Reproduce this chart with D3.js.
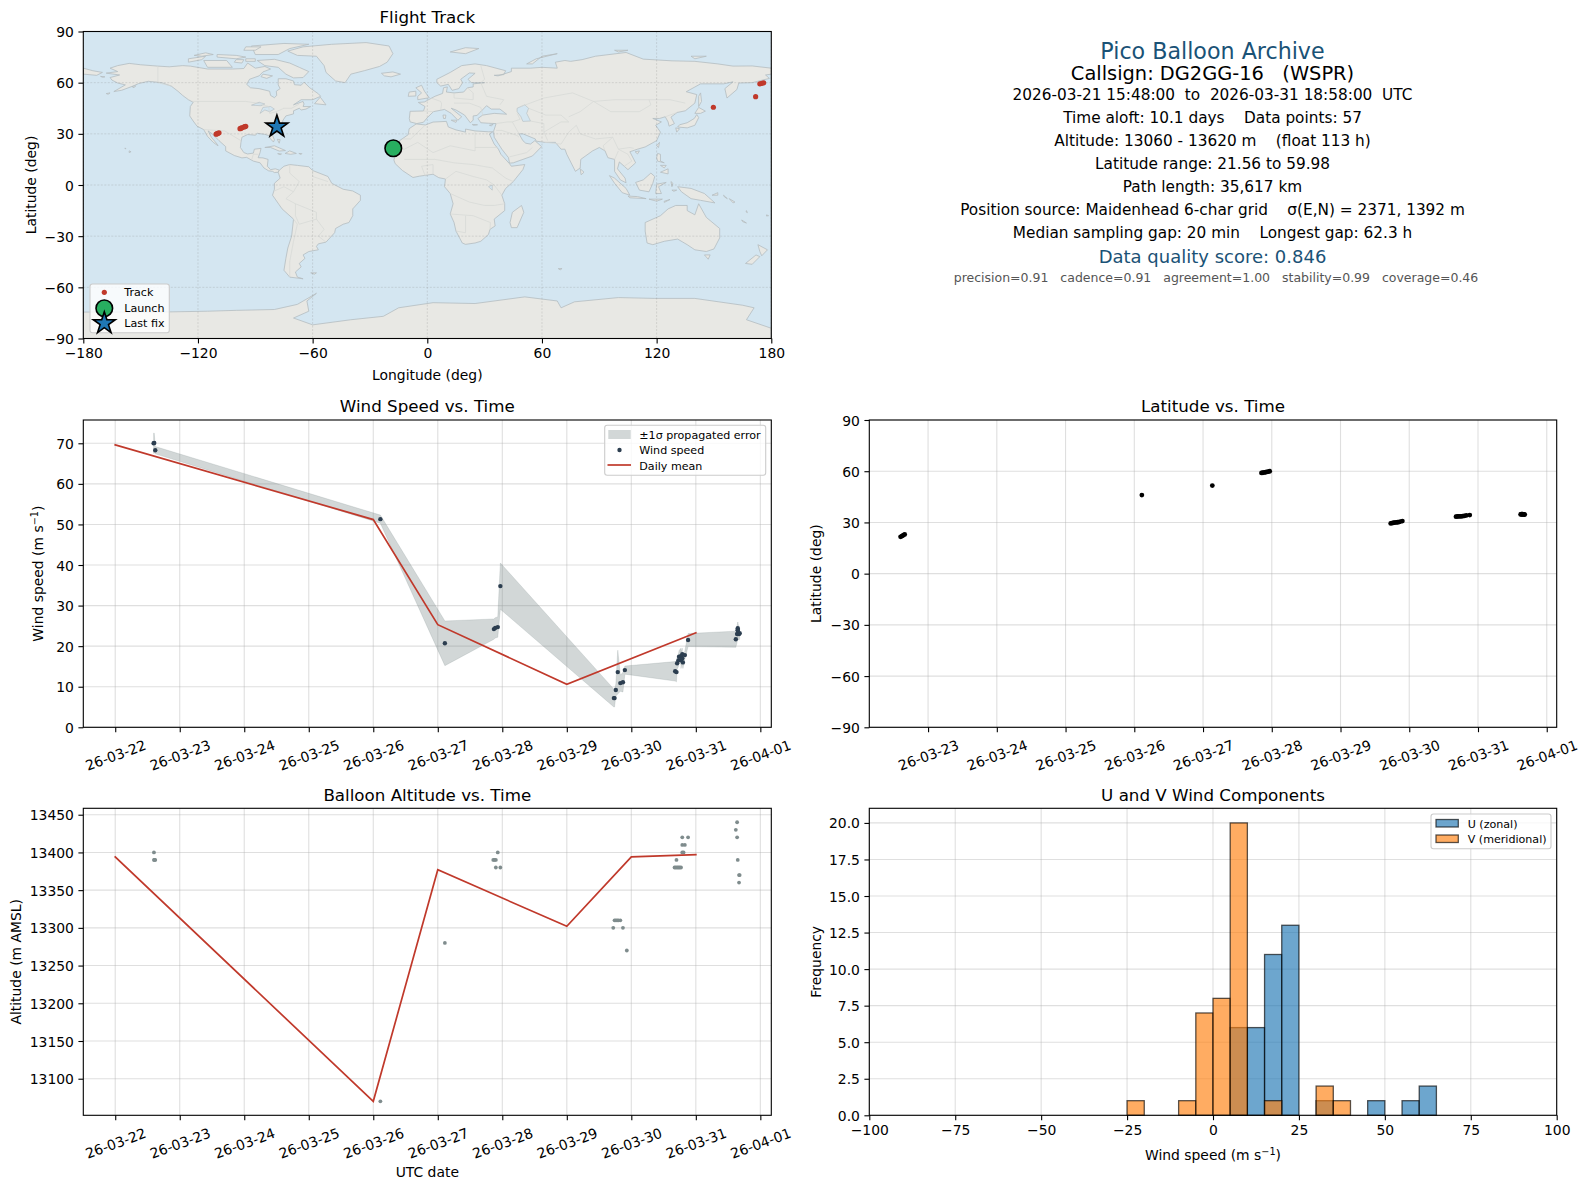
<!DOCTYPE html>
<html>
<head>
<meta charset="utf-8">
<script src="https://cdn.jsdelivr.net/npm/d3@7"></script>
<style>
html, body { margin: 0; padding: 0; background: #fff; }
text { font-family: "DejaVu Sans", sans-serif; fill: #000; white-space: pre; }
</style>
</head>
<body>
<div id="container"></div>
<script>
// ---- flight data ----
var launch = [-17.8, 21.56];
var lastFix = [-78.7, 34.2];
var trackLon = [-110.5, -110, -109.5, -109, -98, -97.5, -97, -96, -95.5, -95, 149.7, 171.8, 174, 175, 176];
var trackLat = [29.8, 30.1, 30.3, 30.6, 33, 33.3, 33.5, 34, 34.2, 34.4, 45.6, 51.8, 59.3, 59.6, 59.9];

var windDay = [22.595, 22.605, 22.62, 26.11, 27.11, 27.87, 27.89, 27.93, 27.97, 29.73, 29.74, 29.76, 29.79, 29.83, 29.87, 29.90, 30.68, 30.70, 30.71, 30.73, 30.74, 30.77, 30.77, 30.79, 30.79, 30.80, 30.83, 30.88, 31.62, 31.64, 31.65, 31.65, 31.65, 31.67, 31.68];
var windSpeed = [70, 70.1, 68.3, 51.3, 20.7, 24.2, 24.5, 24.7, 34.8, 7.2, 7.2, 9.2, 13.6, 10.9, 11.1, 14.1, 13.8, 13.6, 15.8, 16.5, 17.4, 17.5, 16.5, 18, 17, 16, 17.8, 21.5, 21.7, 23, 24.4, 24, 23.9, 23, 23.2];
var windSigma = [2.5, 2.4, 0.9, 1.0, 5.5, 2.5, 2.5, 2.5, 5.7, 2.2, 2.2, 1.5, 5.4, 2.0, 2.4, 1.0, 2.4, 2.4, 1.5, 1.5, 1.5, 2.0, 2.0, 1.5, 1.5, 1.5, 1.0, 1.6, 2.0, 2.0, 1.5, 1.8, 2.0, 1.5, 1.3];
var windMeanDay = [22, 26, 27, 29, 31];
var windMean = [69.6, 51.2, 25.3, 10.6, 23.3];

var latDay = [22.60, 22.62, 22.64, 22.66, 26.11, 27.135, 27.85, 27.87, 27.89, 27.91, 27.93, 27.95, 27.97, 29.73, 29.75, 29.77, 29.79, 29.81, 29.83, 29.85, 29.87, 29.90, 30.68, 30.70, 30.72, 30.74, 30.76, 30.78, 30.80, 30.83, 30.88, 31.62, 31.63, 31.64, 31.65, 31.66, 31.67, 31.68];
var latValue = [21.56, 22, 22.5, 23, 46, 51.6, 59, 59.1, 59.3, 59.4, 59.6, 59.8, 59.98, 29.4, 29.6, 29.8, 29.9, 30, 30.1, 30.2, 30.5, 30.8, 33.4, 33.5, 33.5, 33.6, 33.6, 33.7, 33.8, 34.1, 34.3, 34.7, 34.8, 34.8, 34.8, 34.7, 34.7, 34.6];

var altDay = [22.60, 22.60, 22.61, 22.62, 26.11, 27.11, 27.86, 27.88, 27.90, 27.90, 27.93, 27.97, 29.72, 29.74, 29.76, 29.78, 29.80, 29.83, 29.87, 29.93, 30.67, 30.69, 30.70, 30.71, 30.73, 30.75, 30.77, 30.79, 30.79, 30.79, 30.81, 30.83, 30.88, 31.62, 31.64, 31.64, 31.65, 31.67, 31.68, 31.67];
var altValue = [13400, 13390, 13390, 13390, 13070, 13280, 13390, 13390, 13390, 13380, 13400, 13380, 13300, 13310, 13310, 13310, 13310, 13310, 13300, 13270, 13380, 13380, 13390, 13380, 13380, 13380, 13380, 13400, 13410, 13420, 13400, 13410, 13420, 13430, 13440, 13420, 13390, 13370, 13370, 13360];
var altMeanDay = [22, 26, 27, 29, 30, 31];
var altMean = [13394, 13070, 13377, 13302, 13394, 13397];

var binStart = [-25, -20, -15, -10, -5, 0, 5, 10, 15, 20, 25, 30, 35, 40, 45, 50, 55, 60];
var uCounts = [0, 0, 0, 0, 0, 0, 6, 6, 11, 13, 0, 1, 0, 0, 1, 0, 1, 2];
var vCounts = [1, 0, 0, 1, 7, 8, 20, 0, 1, 0, 0, 2, 1, 0, 0, 0, 0, 0];
var binWidth = 5;

var lonTicks = [-180, -120, -60, 0, 60, 120, 180];
var latTicks = [-90, -60, -30, 0, 30, 60, 90];
var windTicks = [0, 10, 20, 30, 40, 50, 60, 70];
var altTicks = [13100, 13150, 13200, 13250, 13300, 13350, 13400, 13450];
var histXTicks = [-100, -75, -50, -25, 0, 25, 50, 75, 100];
var histYTicks = [0, 2.5, 5, 7.5, 10, 12.5, 15, 17.5, 20];

var infoLines = [
	"Pico Balloon Archive",
	"Callsign: DG2GG-16   (WSPR)",
	"2026-03-21 15:48:00  to  2026-03-31 18:58:00  UTC",
	"Time aloft: 10.1 days    Data points: 57",
	"Altitude: 13060 - 13620 m    (float 113 h)",
	"Latitude range: 21.56 to 59.98",
	"Path length: 35,617 km",
	"Position source: Maidenhead 6-char grid    \u03c3(E,N) = 2371, 1392 m",
	"Median sampling gap: 20 min    Longest gap: 62.3 h",
	"Data quality score: 0.846",
	"precision=0.91   cadence=0.91   agreement=1.00   stability=0.99   coverage=0.46"
];

// rough coastlines, lon/lat by hand
var land = [
	// north america
	[[-166,68.5],[-162,70],[-156,71.3],[-150,70.5],[-141,69.7],[-135,69.3],[-128,70],[-124,69.7],[-115,68],[-108,68],[-102,68],[-96,68.3],[-94,71.5],[-90,68.5],[-85,69.5],[-82,68],[-86,66.3],[-88,64],[-93,62],[-94.5,59],[-92.5,57],[-88,56.5],[-82.5,55],[-82,52.5],[-80,51.2],[-78.8,52.5],[-79,55],[-77,56.5],[-78,58.7],[-78,62.3],[-74,62.3],[-70,61],[-69.5,58.8],[-66,58.5],[-64.5,60.3],[-61.5,57],[-57,53.5],[-55.8,52],[-60,50],[-66,50],[-70,47],[-65,49],[-64.5,47.5],[-65,46],[-61,46],[-63.5,44.5],[-66,44],[-67,45],[-70,43.5],[-70,41.7],[-74,40.5],[-75.5,38],[-76,35.5],[-78,34],[-81,32],[-81.3,30],[-80,26.5],[-80.5,25.2],[-82,27],[-83,29],[-85,29.7],[-89,30.3],[-90,29.2],[-94,29.6],[-97,28],[-97.5,25],[-97.8,22],[-96,19],[-94,18.2],[-91,18.7],[-90.5,21],[-87,21.5],[-87.5,19],[-88.5,16],[-86,15.9],[-83.3,15],[-83.7,11],[-82,9],[-79.5,9.5],[-77.4,8.7],[-78,7.5],[-80,7.3],[-81,8],[-83,8.3],[-85.5,10],[-87.5,13],[-91,14],[-94.5,16.2],[-97,15.9],[-101,17.3],[-105.5,20],[-105.5,22.5],[-109,26],[-112.5,30],[-114.7,31.7],[-113,28],[-110,24],[-109.5,23],[-112,25],[-115,28.5],[-117,32.5],[-120.5,34.5],[-122.5,37.5],[-124.3,40.5],[-124,46],[-122.5,48.5],[-125,50],[-128,52.5],[-130.5,55],[-134,58],[-139,60],[-146,60.8],[-151,59.5],[-154,58],[-160,55.5],[-164,54.8],[-158,58.7],[-162,59.8],[-165,61.5],[-166,63],[-161,64.5],[-168,65.6],[-162,66.5]],
	// greenland and the arctic islands
	[[-73,78.5],[-65,81],[-50,82.5],[-32,83.5],[-20,81.5],[-18,77],[-21,72],[-25,69.5],[-33,67],[-40,65],[-43,60],[-48,61],[-53,66],[-54,70],[-58,75.5],[-68,76]],
	[[-80,73.7],[-72,71.5],[-67,69],[-62,66.5],[-65,63],[-70,62.8],[-74,65],[-78,69],[-85,70],[-89,73]],
	[[-117,73],[-105,73],[-102,69],[-115,69]],
	[[-125,74],[-116,75.5],[-118,73.5],[-125,72]],
	[[-90,76.5],[-78,76.5],[-72,80],[-62,82.5],[-75,83],[-92,81.5]],
	[[-110,76.5],[-100,76],[-95,75],[-100,74],[-110,75]],
	[[-95,81],[-87,81],[-90,79],[-96,79]],
	[[-122,76],[-116,77.5],[-112,76.5],[-118,75.5]],
	[[-100,73.5],[-96,73.5],[-97,71.5],[-101,72]],
	[[-95,74],[-90,74],[-90,72.5],[-95,72.5]],
	[[-86,65],[-81,64],[-84,62.5],[-87,63.5]],
	[[-59,47.7],[-56,51.5],[-53,47]],
	// caribbean
	[[-85,22],[-80,23],[-74.2,20.2],[-77.5,19.9],[-82,22]],
	[[-74.4,18.5],[-72,20],[-68.5,18.5],[-71.5,18]],
	[[-78.3,18.4],[-76.3,18.2],[-77,17.8]],
	[[-67.2,18.5],[-65.6,18.4],[-66,17.9]],
	[[-78.5,26.8],[-77,26.6],[-77.5,24.5]],
	// south america
	[[-77.4,8.7],[-75,11],[-72,12],[-68,11.5],[-62,10.7],[-60,8.5],[-52,5],[-50,1],[-44,-2.5],[-39,-3.5],[-35,-6],[-35,-9],[-39,-14],[-39,-18],[-41,-22],[-44,-23],[-48,-25.5],[-48.5,-28],[-53,-33.5],[-57,-34.5],[-58,-36],[-57,-38],[-62,-39],[-65,-41],[-64,-43],[-67,-46],[-66,-48],[-69,-51],[-68,-54],[-65,-55],[-72,-54],[-75,-50],[-74,-43],[-73,-37],[-71,-30],[-70,-20],[-76,-14],[-81,-6],[-80,-2.5],[-80,1],[-77,4],[-78,7.5]],
	[[-61,-51.5],[-58,-51.5],[-59,-52.3]],
	// africa
	[[-5.8,35.8],[-1,35.2],[3,36.9],[10,37.3],[11,34],[15,32.3],[20,31],[20,32.8],[25,31.7],[32,31.2],[34.3,31.2],[32.5,29.9],[35,24],[37.2,21],[38.5,18],[43,12.5],[44,11],[51,12],[50,9],[45,2],[41,-2],[39,-6],[40.5,-11],[40.5,-15],[35,-20],[35.5,-24],[32.8,-26],[32,-29],[28,-33],[25,-34],[20,-34.8],[18.3,-34],[15,-27],[14,-22],[12,-17],[13.5,-11],[12,-5],[9,-1],[9.5,3.5],[6,4.3],[3,6.3],[-4,5.2],[-7.5,4.4],[-13,8.5],[-16.8,12.5],[-17.5,14.7],[-16.2,19],[-17,21],[-14.5,26],[-10,29.5],[-9.5,33]],
	// eurasia
	[[-9,37],[-9.4,39],[-9,43.2],[-2,43.4],[-1.2,46],[-4.7,48.4],[-1.5,48.7],[1.5,50.5],[4,52],[8,53.7],[8.5,57],[10.5,57.5],[10,54.5],[14,54],[19,54.5],[21,57],[24,57.5],[24,59.3],[30,60],[23,60],[21.3,62],[25,65.5],[22,65.7],[17.5,62],[18.5,60],[16.5,56.5],[13,55.5],[11,59],[7,58],[5,60],[5,62],[12,66],[18,70],[25,71],[31,70],[41,67],[40,64.7],[35,64.3],[37,64],[44,66.5],[44,68.5],[54,68.5],[60,69],[68,68.5],[67,72],[72,73],[75,72.5],[81,73.5],[88,75.5],[104,77.7],[113,73.8],[128,72.8],[140,72.5],[152,71],[160,69.7],[170,69.8],[180,68.5],[180,65],[177,64.5],[179,62.5],[170,60],[163,59.8],[162,56],[156.8,51],[155.7,56.5],[160,60.5],[155,59.3],[143,59.3],[135.5,54.7],[141,53],[140,48],[135,43.5],[130.7,42.5],[127.5,39.8],[129.3,36],[126.5,34.5],[126,37],[124.5,40],[121.5,39],[118,39],[122.5,37],[119.5,35],[122,31],[120,26],[114,22.3],[110,21],[106,19.5],[109,13],[105,9],[103,11],[100.5,13.5],[99.5,9.5],[103.5,4],[104,1.3],[101,3],[98,8],[98,15],[94.5,16],[93,20],[90,22],[86.5,20],[80.3,15],[80,10],[77.5,8],[73,18],[72,21],[70,21],[67,25],[61.5,25],[57,25.7],[56.5,27],[50,30],[48,30],[50,26],[51.5,24.5],[54,24],[56.3,26],[59.8,22.5],[55,17],[45,13],[43,12.8],[42.5,16],[39,21],[35,28],[34.7,31.5],[36,36],[32,36.2],[28,36.5],[26.5,39],[29,41],[35,42],[41.5,41.5],[38,44.5],[33.5,44.5],[31,46.5],[28,43],[26,40.8],[24,40.5],[24,38],[22.5,36.5],[19.5,41],[15,44],[12.5,45],[18,40],[16,38],[12.5,42],[9,44.3],[3.2,43],[0,39.5],[-2,36.8],[-5.5,36]],
	[[-180,68.5],[-175,67],[-170,66],[-173,64.3],[-180,65]],
	[[-5,50],[1,51.2],[-1.5,55],[-3,58.5],[-6,57],[-3,54],[-5,52]],
	[[-10,52],[-6,52.2],[-6,55],[-9.5,54.5]],
	[[-24,65.5],[-18,66.3],[-14,65],[-19,63.4],[-22.5,64]],
	[[12,78],[20,80.5],[27,80],[20,77]],
	[[52,71],[57,74],[68,77],[60,75.5],[55,71]],
	[[98,79],[105,79],[100,78]],
	[[138,75.5],[146,75.5],[140,74]],
	[[12.5,38],[15.5,38],[15,36.7]],
	[[8.2,41],[9.7,41],[9.5,39],[8.5,39]],
	[[23.5,35.5],[26.3,35.3],[24,35]],
	[[32.5,35],[34.5,35.6],[33.5,34.7]],
	[[49.3,-12],[50.5,-16],[47,-25],[44,-25],[43.3,-22],[44.5,-16]],
	[[80,9.5],[82,7.5],[80.5,6]],
	[[131,34],[136,33.5],[140,35],[142,39.5],[141,41.3],[139.7,39],[136,36.5],[132,35.3]],
	[[140,42],[142,45.5],[145.5,43.3],[143,42]],
	[[130,33.5],[132,33],[130.5,31]],
	[[142,46],[143.5,49],[143,54],[142,52]],
	[[120,23],[121.5,25],[121,22]],
	[[108.7,19.5],[111,20],[110,18.2]],
	[[120,16],[120.5,18.5],[122,18],[122,14],[124,13],[120.5,14]],
	[[122,7.5],[126,9.5],[126,6.5]],
	[[122,11.5],[125,11.5],[124,10]],
	[[109,1.5],[113,3],[117,7],[119,5],[118,1],[116,-4],[111,-3]],
	[[95.3,5.5],[98,4],[104,-2],[106,-6],[102,-4.5],[98,1]],
	[[105,-6.5],[110,-6.8],[114.5,-8],[106,-7.5]],
	[[116,-8.3],[123,-8.3],[120,-9.5]],
	[[124,-9.5],[127,-8.5],[124,-10.2]],
	[[119.5,-5],[120,0.5],[125,1.5],[121,-1],[122.5,-5]],
	[[127.5,2],[128.5,1],[128,-1]],
	[[128,-3],[130.5,-3],[129,-3.7]],
	[[131,-1],[138,-2],[145,-5],[150.5,-10.5],[143,-9],[138,-8],[133,-4]],
	[[149,-6],[152,-4.5],[152,-6]],
	[[155,-6],[157,-8],[155.5,-7]],
	[[158,-8],[161,-10],[160,-10.5]],
	[[164.5,-20.5],[167,-22.3],[165,-21.5]],
	[[167,-15],[167.5,-16.2],[166.8,-15.8]],
	[[177.5,-17.5],[178.6,-18],[177.5,-18.2]],
	[[114,-22],[122,-18],[126,-14],[130,-12],[136,-12],[136,-15],[140,-17.5],[142,-11],[146,-19],[153,-25.5],[153,-31],[150,-37.5],[146,-39],[140,-38],[136,-35],[131,-31.7],[124,-33],[118,-35],[115,-34],[114,-27]],
	[[145,-41],[148,-41],[147,-43.5]],
	[[173,-35],[178,-38],[175,-41.5],[174,-39]],
	[[172,-41],[174,-42],[170,-46.5],[166.5,-46]],
	[[68.5,-49],[70.5,-49],[69.5,-49.8]],
	[[-156,20],[-155,19.5],[-156,19]],
	[[-158.3,21.6],[-157.6,21.4],[-158,21.2]],
	[[-171,63.7],[-168.7,63.4],[-170,63.2]],
	[[-154.5,57.7],[-152.5,58.2],[-153.5,57]],
	[[-168,53.6],[-166,54],[-167,53.2]],
	// antarctica
	[[-180,-74.5],[-140,-74.5],[-115,-74],[-100,-73.5],[-80,-73],[-68,-70],[-58,-63.5],[-63,-68],[-62,-74],[-70,-78],[-60,-82],[-40,-79],[-23,-77],[-15,-72],[3,-69],[25,-69.5],[51,-65.6],[68,-68],[70,-72],[77,-68.5],[100,-66],[119,-66.5],[140,-66.5],[165,-70.5],[171,-72],[167,-79],[180,-84],[180,-90],[-180,-90]]
];
var lakes = [
	[[47,45],[51,47],[53,45],[52,42],[54,37.5],[50,37.3],[49,40],[47,43]],
	[[-92,46.8],[-88,48.5],[-85,47.5],[-87,46.5]],
	[[-87.5,42],[-86,45.5],[-82,46],[-80,44.5],[-82.5,43],[-85,44]],
	[[32,-1],[34,0],[34,-3]]
];
var borders = [
	[[-123,49],[-95,49],[-89,48],[-83,46],[-82.5,42],[-79,43],[-75,45],[-71,45],[-67,47.5]],
	[[-141,69.7],[-141,60],[-134,58]],
	[[-117,32.5],[-106,31.7],[-97.5,26]],
	[[-92,14.5],[-91,18],[-88.5,18]],
	[[-72,12],[-72,7],[-67,2],[-70,-4],[-74,-8],[-69,-11],[-58,-16],[-58,-20],[-54,-26],[-57,-30],[-53,-33.5]],
	[[-60,8.5],[-60,5],[-52,2]],
	[[-70,-20],[-68,-23],[-70,-33],[-72,-45],[-72,-54]],
	[[-80,-3.5],[-75,-1],[-70,-4]],
	[[-69,-11],[-69,-18],[-67,-23],[-58,-20]],
	[[-13,27],[-8.7,27],[-1,35.2]],
	[[-17,21],[-12,21],[-5,25],[3,19],[12,23],[25,20],[25,31.7]],
	[[25,22],[37,22]],
	[[-12,15],[4,15],[14,13],[24,12],[34,10],[41,4],[45,2]],
	[[9.5,3.5],[15,8],[24,5],[31,3],[35,0],[39,-6]],
	[[12,-5],[22,-10],[30,-12],[35,-12],[40.5,-11]],
	[[12,-17],[24,-18],[33,-22],[32.8,-26]],
	[[20,-18],[20,-28],[15,-27]],
	[[-1,5],[-3,11],[3,12],[3,6.3]],
	[[-2,43.4],[3.2,43]],
	[[2,51],[7,49],[7.5,47.5],[7,44]],
	[[14,54],[14,51],[24,50],[24,54],[21,57]],
	[[14,48],[22,48],[28,45.5],[29,41]],
	[[28,60],[31,52],[40,50],[38,47]],
	[[28,70],[30,62],[28,60]],
	[[47,42],[48.5,38.5],[44.5,37],[42,37],[36,36]],
	[[44.5,37],[48,30]],
	[[36,32],[39,32],[47,29],[48,28]],
	[[43,16.5],[52,19],[55,22]],
	[[54,37.5],[61,36],[61,31],[63,26]],
	[[61,31],[70,37],[74,37]],
	[[61.5,25],[70,24],[74,31],[78,35],[80,30],[88,27],[97,28],[92,23],[93,20]],
	[[53,45],[62,41],[70,41],[74,37]],
	[[49,46],[61,51],[76,54],[87,49],[98,50],[107,50],[116,50],[127,50],[135,48]],
	[[87,49],[80,43],[74,40]],
	[[87,49],[96,43],[111,43],[117,47],[116,50]],
	[[97,28],[100,21],[106,22],[108,21.5]],
	[[100,21],[105,18],[107,14],[103,11]],
	[[98,15],[100,20]],
	[[124.5,40],[130.7,42.5]]
];

var dateTicks = [22, 23, 24, 25, 26, 27, 28, 29, 30, 31, 32];

// ---- layout ----
var W = 1588, H = 1189;
var leftCol = [83.3, 771.3], rightCol = [869.3, 1556.7];
var row1 = [31.5, 338.5], row2 = [420, 727.3], row3 = [808.3, 1115.3];
var RED = "#c0392b", NAVY = "#1a5276";

function marchDate(d) {
	return new Date(Date.UTC(2026, 2, 1) + (d - 1) * 864e5);
}
var dayFmt = d3.utcFormat("%y-%m-%d");
function minus(v) {
	return String(v).replace("-", "\u2212");
}

var svg = d3.select("#container").append("svg")
	.attr("width", W)
	.attr("height", H)
	.style("display", "block");

// one panel: grid, ticks and spines; marks go into the returned group
function panel(col, row, x, y, xTicks, yTicks, xFmt, yFmt, rotate) {
	var p = {};
	var grid = svg.append("g");
	p.marks = svg.append("g");
	xTicks.forEach(function(t) {
		grid.append("line").attr("x1", x(t)).attr("x2", x(t)).attr("y1", row[0]).attr("y2", row[1])
			.attr("stroke", "#b0b0b0").attr("stroke-opacity", 0.4).attr("stroke-width", 1.1);
	});
	yTicks.forEach(function(t) {
		grid.append("line").attr("x1", col[0]).attr("x2", col[1]).attr("y1", y(t)).attr("y2", y(t))
			.attr("stroke", "#b0b0b0").attr("stroke-opacity", 0.4).attr("stroke-width", 1.1);
	});
	p.finish = function() {
		var ax = svg.append("g").attr("transform", "translate(0," + row[1] + ")")
			.call(d3.axisBottom(x).tickValues(xTicks).tickFormat(xFmt).tickSize(4.9).tickPadding(4.5));
		var ay = svg.append("g").attr("transform", "translate(" + col[0] + ",0)")
			.call(d3.axisLeft(y).tickValues(yTicks).tickFormat(yFmt).tickSize(4.9).tickPadding(4.5));
		[ax, ay].forEach(function(a) {
			a.select(".domain").remove();
			a.selectAll("line").attr("stroke", "#000").attr("stroke-width", 1.1);
			a.selectAll("text").style("font-family", '"DejaVu Sans"').style("font-size", "13.9px").attr("fill", "#000");
		});
		ay.selectAll("text").attr("dy", "0.36em");
		if (rotate) {
			ax.selectAll("text")
				.attr("y", 0).attr("dy", "0.35em")
				.attr("text-anchor", "middle")
				.attr("transform", "translate(0,28) rotate(-20)");
		}
		svg.append("rect")
			.attr("x", col[0]).attr("y", row[0])
			.attr("width", col[1] - col[0]).attr("height", row[1] - row[0])
			.attr("fill", "none").attr("stroke", "#000").attr("stroke-width", 1.1);
	};
	return p;
}

function title(col, row, s, lift) {
	svg.append("text")
		.attr("x", (col[0] + col[1]) / 2).attr("y", row[0] - lift)
		.attr("text-anchor", "middle").style("font-size", "16.7px").text(s);
}
function xLabel(col, yPos) {
	return svg.append("text")
		.attr("x", (col[0] + col[1]) / 2).attr("y", yPos)
		.attr("text-anchor", "middle").style("font-size", "13.9px");
}
function yLabel(row, xPos) {
	return svg.append("text")
		.attr("transform", "translate(" + xPos + "," + (row[0] + row[1]) / 2 + ") rotate(-90)")
		.attr("text-anchor", "middle").style("font-size", "13.9px");
}
// "Wind speed (m s^-1)"
function windUnit(t) {
	t.append("tspan").text("Wind speed (m s");
	t.append("tspan").attr("dy", -5).style("font-size", "9.7px").text("\u22121");
	t.append("tspan").attr("dy", 5).text(")");
}
function legendBox(x0, y0, x1, y1) {
	svg.append("rect")
		.attr("x", x0).attr("y", y0).attr("width", x1 - x0).attr("height", y1 - y0).attr("rx", 2.5)
		.attr("fill", "#fff").attr("fill-opacity", 0.8).attr("stroke", "#ccc").attr("stroke-width", 1.1);
}
function legendText(x, y, s) {
	svg.append("text").attr("x", x).attr("y", y).attr("dy", "0.36em").style("font-size", "11.1px").text(s);
}

// ---- flight track map ----
var xLon = d3.scaleLinear().domain([-180, 180]).range(leftCol);
var yLat = d3.scaleLinear().domain([-90, 90]).range([row1[1], row1[0]]);

svg.append("clipPath").attr("id", "mapClip").append("rect")
	.attr("x", leftCol[0]).attr("y", row1[0])
	.attr("width", leftCol[1] - leftCol[0]).attr("height", row1[1] - row1[0]);

var mapG = svg.append("g").attr("clip-path", "url(#mapClip)");
mapG.append("rect")
	.attr("x", leftCol[0]).attr("y", row1[0])
	.attr("width", leftCol[1] - leftCol[0]).attr("height", row1[1] - row1[0])
	.attr("fill", "#d4e6f1");

var geoLine = d3.line().x(function(d) { return xLon(d[0]); }).y(function(d) { return yLat(d[1]); });

mapG.selectAll(".land").data(land).enter().append("path")
	.attr("class", "land")
	.attr("d", function(d) { return geoLine(d) + "Z"; })
	.attr("fill", "#e8e8e4")
	.attr("stroke", "#b4bcc0").attr("stroke-width", 0.8).attr("stroke-linejoin", "round");
mapG.selectAll(".lake").data(lakes).enter().append("path")
	.attr("class", "lake")
	.attr("d", function(d) { return geoLine(d) + "Z"; })
	.attr("fill", "#d4e6f1")
	.attr("stroke", "#b4bcc0").attr("stroke-width", 0.6);
mapG.selectAll(".border").data(borders).enter().append("path")
	.attr("class", "border")
	.attr("d", geoLine)
	.attr("fill", "none")
	.attr("stroke", "#d6d8d6").attr("stroke-width", 0.7);

lonTicks.forEach(function(t) {
	mapG.append("line").attr("x1", xLon(t)).attr("x2", xLon(t)).attr("y1", row1[0]).attr("y2", row1[1])
		.attr("stroke", "#888").attr("stroke-opacity", 0.35).attr("stroke-width", 0.7).attr("stroke-dasharray", "2 1.5");
});
latTicks.forEach(function(t) {
	mapG.append("line").attr("x1", leftCol[0]).attr("x2", leftCol[1]).attr("y1", yLat(t)).attr("y2", yLat(t))
		.attr("stroke", "#888").attr("stroke-opacity", 0.35).attr("stroke-width", 0.7).attr("stroke-dasharray", "2 1.5");
});

mapG.selectAll(".trk").data(trackLon).enter().append("circle")
	.attr("class", "trk")
	.attr("cx", function(d) { return xLon(d); })
	.attr("cy", function(d, i) { return yLat(trackLat[i]); })
	.attr("r", 2.6)
	.attr("fill", RED);
mapG.append("circle")
	.attr("cx", xLon(launch[0])).attr("cy", yLat(launch[1])).attr("r", 8.3)
	.attr("fill", "#27ae60").attr("stroke", "#000").attr("stroke-width", 1.6);
var star = d3.symbol().type(d3.symbolStar).size(150);
mapG.append("path")
	.attr("d", star())
	.attr("transform", "translate(" + xLon(lastFix[0]) + "," + yLat(lastFix[1]) + ")")
	.attr("fill", "#1f77b4").attr("stroke", "#000").attr("stroke-width", 1.6);

var mapPanel = panel(leftCol, row1, xLon, yLat, [], [], minus, minus, false);
[["x", lonTicks], ["y", latTicks]].forEach(function(spec) {
	var a = svg.append("g");
	if (spec[0] == "x") {
		a.attr("transform", "translate(0," + row1[1] + ")")
			.call(d3.axisBottom(xLon).tickValues(spec[1]).tickFormat(minus).tickSize(4.9).tickPadding(4.5));
	} else {
		a.attr("transform", "translate(" + leftCol[0] + ",0)")
			.call(d3.axisLeft(yLat).tickValues(spec[1]).tickFormat(minus).tickSize(4.9).tickPadding(4.5));
		a.selectAll("text").attr("dy", "0.36em");
	}
	a.select(".domain").remove();
	a.selectAll("line").attr("stroke", "#000").attr("stroke-width", 1.1);
	a.selectAll("text").style("font-family", '"DejaVu Sans"').style("font-size", "13.9px").attr("fill", "#000");
});
svg.append("rect")
	.attr("x", leftCol[0]).attr("y", row1[0])
	.attr("width", leftCol[1] - leftCol[0]).attr("height", row1[1] - row1[0])
	.attr("fill", "none").attr("stroke", "#000").attr("stroke-width", 1.1);
title(leftCol, row1, "Flight Track", 8.3);
xLabel(leftCol, 380).text("Longitude (deg)");
yLabel(row1, 36).text("Latitude (deg)");

legendBox(90, 284, 169.3, 332.7);
svg.append("circle").attr("cx", 104.3).attr("cy", 292.3).attr("r", 2.6).attr("fill", RED);
svg.append("circle").attr("cx", 104.3).attr("cy", 308.3).attr("r", 8.3)
	.attr("fill", "#27ae60").attr("stroke", "#000").attr("stroke-width", 1.6);
svg.append("path").attr("d", star()).attr("transform", "translate(104.3,323.3)")
	.attr("fill", "#1f77b4").attr("stroke", "#000").attr("stroke-width", 1.6);
legendText(124.3, 292.3, "Track");
legendText(124.3, 308.3, "Launch");
legendText(124.3, 323.3, "Last fix");

// ---- info block ----
var infoRowX = [1212.5, 1212.5, 1212.5, 1212.5, 1212.5, 1212.5, 1212.5, 1212.5, 1212.5, 1212.5, 1216];
var infoRowY = [51.5, 73, 94.5, 117.5, 140.5, 163.5, 186.5, 209.5, 232.5, 257, 277];
var infoRowSize = [22.2, 19.4, 15.3, 15.3, 15.3, 15.3, 15.3, 15.3, 15.3, 18, 12.5];
var infoRowColor = [NAVY, "#000", "#000", "#000", "#000", "#000", "#000", "#000", "#000", NAVY, "#555"];
infoLines.forEach(function(s, i) {
	svg.append("text")
		.attr("x", infoRowX[i]).attr("y", infoRowY[i]).attr("dy", "0.36em")
		.attr("text-anchor", "middle")
		.style("font-size", infoRowSize[i] + "px")
		.style("fill", infoRowColor[i])
		.text(s);
});

// ---- wind speed vs. time ----
var xWind = d3.scaleUtc().domain([marchDate(21.505), marchDate(32.17)]).range(leftCol);
var yWind = d3.scaleLinear().domain([0, 75.74]).range([row2[1], row2[0]]);
var windPanel = panel(leftCol, row2, xWind, yWind, dateTicks.map(marchDate), windTicks, dayFmt, d3.format("d"), true);

var band = d3.area()
	.x(function(d) { return xWind(marchDate(windDay[d])); })
	.y0(function(d) { return yWind(windSpeed[d] - windSigma[d]); })
	.y1(function(d) { return yWind(windSpeed[d] + windSigma[d]); });
windPanel.marks.append("path")
	.attr("d", band(d3.range(windDay.length)))
	.attr("fill", "#7f8c8d").attr("fill-opacity", 0.35)
	.attr("stroke", "#7f8c8d").attr("stroke-opacity", 0.2);
windPanel.marks.append("path")
	.attr("d", d3.line()
		.x(function(d) { return xWind(marchDate(d)); })
		.y(function(d, i) { return yWind(windMean[i]); })(windMeanDay))
	.attr("fill", "none").attr("stroke", RED).attr("stroke-width", 1.7).attr("stroke-linecap", "square");
windPanel.marks.selectAll(".w").data(windDay).enter().append("circle")
	.attr("class", "w")
	.attr("cx", function(d) { return xWind(marchDate(d)); })
	.attr("cy", function(d, i) { return yWind(windSpeed[i]); })
	.attr("r", 2.2)
	.attr("fill", "#2c3e50");
windPanel.finish();
title(leftCol, row2, "Wind Speed vs. Time", 8.3);
windUnit(yLabel(row2, 43));

legendBox(604.7, 425.3, 765.7, 475.3);
svg.append("rect").attr("x", 608.3).attr("y", 430).attr("width", 22.4).attr("height", 9)
	.attr("fill", "#7f8c8d").attr("fill-opacity", 0.35);
svg.append("circle").attr("cx", 619.5).attr("cy", 450).attr("r", 2.2).attr("fill", "#2c3e50");
svg.append("line").attr("x1", 607.5).attr("x2", 631).attr("y1", 465).attr("y2", 465)
	.attr("stroke", RED).attr("stroke-width", 1.7);
legendText(639.3, 435, "\u00b11\u03c3 propagated error");
legendText(639.3, 450, "Wind speed");
legendText(639.3, 466, "Daily mean");

// ---- latitude vs. time ----
var xLatT = d3.scaleUtc().domain([marchDate(22.145), marchDate(32.145)]).range(rightCol);
var yLatT = d3.scaleLinear().domain([-90, 90]).range([row2[1], row2[0]]);
var latPanel = panel(rightCol, row2, xLatT, yLatT, dateTicks.slice(1).map(marchDate), latTicks, dayFmt, minus, true);
latPanel.marks.selectAll(".l").data(latDay).enter().append("circle")
	.attr("class", "l")
	.attr("cx", function(d) { return xLatT(marchDate(d)); })
	.attr("cy", function(d, i) { return yLatT(latValue[i]); })
	.attr("r", 2.4)
	.attr("fill", "#000");
latPanel.finish();
title(rightCol, row2, "Latitude vs. Time", 8.3);
yLabel(row2, 821).text("Latitude (deg)");

// ---- altitude vs. time ----
var yAlt = d3.scaleLinear().domain([13051.5, 13458.5]).range([row3[1], row3[0]]);
var altPanel = panel(leftCol, row3, xWind, yAlt, dateTicks.map(marchDate), altTicks, dayFmt, d3.format("d"), true);
altPanel.marks.selectAll(".a").data(altDay).enter().append("circle")
	.attr("class", "a")
	.attr("cx", function(d) { return xWind(marchDate(d)); })
	.attr("cy", function(d, i) { return yAlt(altValue[i]); })
	.attr("r", 1.9)
	.attr("fill", "#7f8c8d");
altPanel.marks.append("path")
	.attr("d", d3.line()
		.x(function(d) { return xWind(marchDate(d)); })
		.y(function(d, i) { return yAlt(altMean[i]); })(altMeanDay))
	.attr("fill", "none").attr("stroke", RED).attr("stroke-width", 1.7).attr("stroke-linecap", "square");
altPanel.finish();
title(leftCol, row3, "Balloon Altitude vs. Time", 7.5);
xLabel(leftCol, 1177).text("UTC date");
yLabel(row3, 21).text("Altitude (m AMSL)");

// ---- u / v histogram ----
var xHist = d3.scaleLinear().domain([-100, 100]).range(rightCol);
var yHist = d3.scaleLinear().domain([0, 21]).range([row3[1], row3[0]]);
var histPanel = panel(rightCol, row3, xHist, yHist, histXTicks, histYTicks, minus, d3.format(".1f"), false);

function drawBars(counts, color) {
	histPanel.marks.selectAll(".bar-" + color.slice(1)).data(binStart).enter().append("rect")
		.attr("class", "bar-" + color.slice(1))
		.filter(function(d, i) { return counts[i] > 0; })
		.attr("x", function(d) { return xHist(d); })
		.attr("width", function(d) { return xHist(d + binWidth) - xHist(d); })
		.attr("y", function(d) { return yHist(counts[binStart.indexOf(d)]); })
		.attr("height", function(d) { return yHist(0) - yHist(counts[binStart.indexOf(d)]); })
		.attr("fill", color).attr("fill-opacity", 0.65)
		.attr("stroke", "#000").attr("stroke-opacity", 0.65).attr("stroke-width", 1.3);
}
drawBars(uCounts, "#1f77b4");
drawBars(vCounts, "#ff7f0e");
histPanel.finish();
title(rightCol, row3, "U and V Wind Components", 7.5);
windUnit(xLabel(rightCol, 1160));
yLabel(row3, 821).text("Frequency");

legendBox(1431, 814, 1551, 848.7);
svg.append("rect").attr("x", 1436).attr("y", 819.5).attr("width", 22.3).attr("height", 7.5)
	.attr("fill", "#1f77b4").attr("fill-opacity", 0.65).attr("stroke", "#000").attr("stroke-opacity", 0.65).attr("stroke-width", 1.3);
svg.append("rect").attr("x", 1436).attr("y", 835).attr("width", 22.3).attr("height", 7.5)
	.attr("fill", "#ff7f0e").attr("fill-opacity", 0.65).attr("stroke", "#000").attr("stroke-opacity", 0.65).attr("stroke-width", 1.3);
legendText(1467.7, 824, "U (zonal)");
legendText(1467.7, 839, "V (meridional)");
</script>
</body>
</html>
